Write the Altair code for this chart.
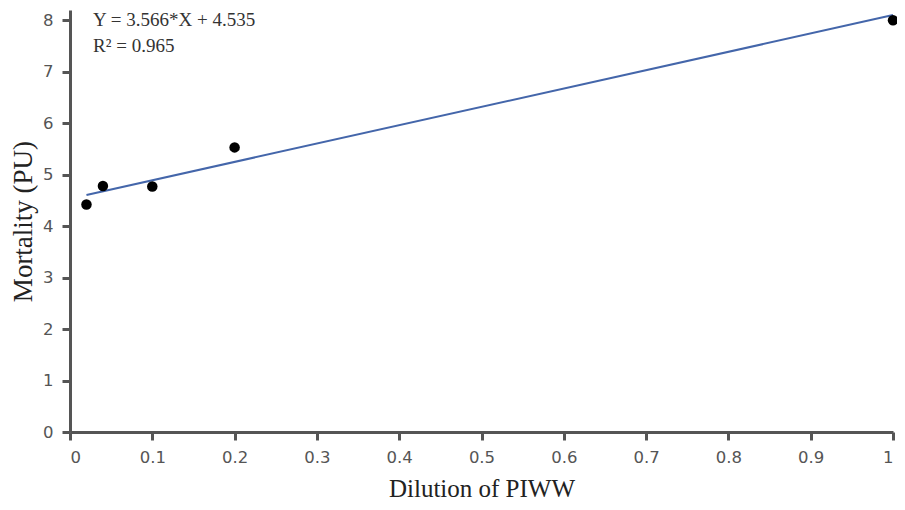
import altair as alt
import pandas as pd

dilution = [0.02, 0.04, 0.1, 0.2, 1.0]
mortality = [4.42, 4.78, 4.77, 5.53, 8.0]

slope = 3.566
intercept = 4.535
fit_x = [0.02, 1.0]
fit_y = [slope * v + intercept for v in fit_x]

ann_text = ["Y = 3.566*X + 4.535", "R\u00b2 = 0.965"]
ann_x = [0.028, 0.028]
ann_y = [8.0, 7.5]

x_ticks = [0, 0.1, 0.2, 0.3, 0.4, 0.5, 0.6, 0.7, 0.8, 0.9, 1]
y_ticks = [0, 1, 2, 3, 4, 5, 6, 7, 8]

pts = pd.DataFrame({"x": dilution, "y": mortality})
fit = pd.DataFrame({"x": fit_x, "y": fit_y})
ann = pd.DataFrame({"x": ann_x, "y": ann_y, "t": ann_text})

xscale = alt.Scale(domain=[0, 1], nice=False, zero=False)
yscale = alt.Scale(domain=[0, 8.2], nice=False)

xaxis = alt.Axis(
    values=x_ticks, title="Dilution of PIWW", grid=False,
    labelExpr="datum.value == 0 ? '0' : datum.value == 1 ? '1' : format(datum.value, '.1f')",
    titlePadding=11, titleFontSize=25,
)
yaxis = alt.Axis(values=y_ticks, title="Mortality (PU)", grid=False,
                 titlePadding=5, titleFontSize=27)

line = alt.Chart(fit).mark_line(color="#4466aa", strokeWidth=2).encode(
    x=alt.X("x:Q", scale=xscale, axis=xaxis),
    y=alt.Y("y:Q", scale=yscale, axis=yaxis),
)

points = alt.Chart(pts).mark_circle(color="black", opacity=1, size=110).encode(
    x=alt.X("x:Q", scale=xscale),
    y=alt.Y("y:Q", scale=yscale),
)

text = alt.Chart(ann).mark_text(
    align="left", baseline="middle", font="Liberation Serif", fontSize=19, color="#333333"
).encode(
    x=alt.X("x:Q", scale=xscale),
    y=alt.Y("y:Q", scale=yscale),
    text="t:N",
)

chart = (
    alt.layer(line, points, text)
    .properties(
        width=823, height=422,
        autosize=alt.AutoSizeParams(type="none"),
        padding={"left": 62, "top": 2, "right": 4, "bottom": 70},
    )
    .configure_view(stroke=None)
    .configure_axis(
        domainColor="#555555", domainWidth=3,
        tickColor="#555555", tickWidth=3, tickSize=8,
        labelFont="DejaVu Sans", labelFontSize=16.5, labelColor="#555555",
        labelPadding=9,
        titleFont="Liberation Serif", titleFontWeight="normal",
        titleColor="#222222",
    )
)

chart.save("out.html", embed_options={"renderer": "svg", "actions": False})
